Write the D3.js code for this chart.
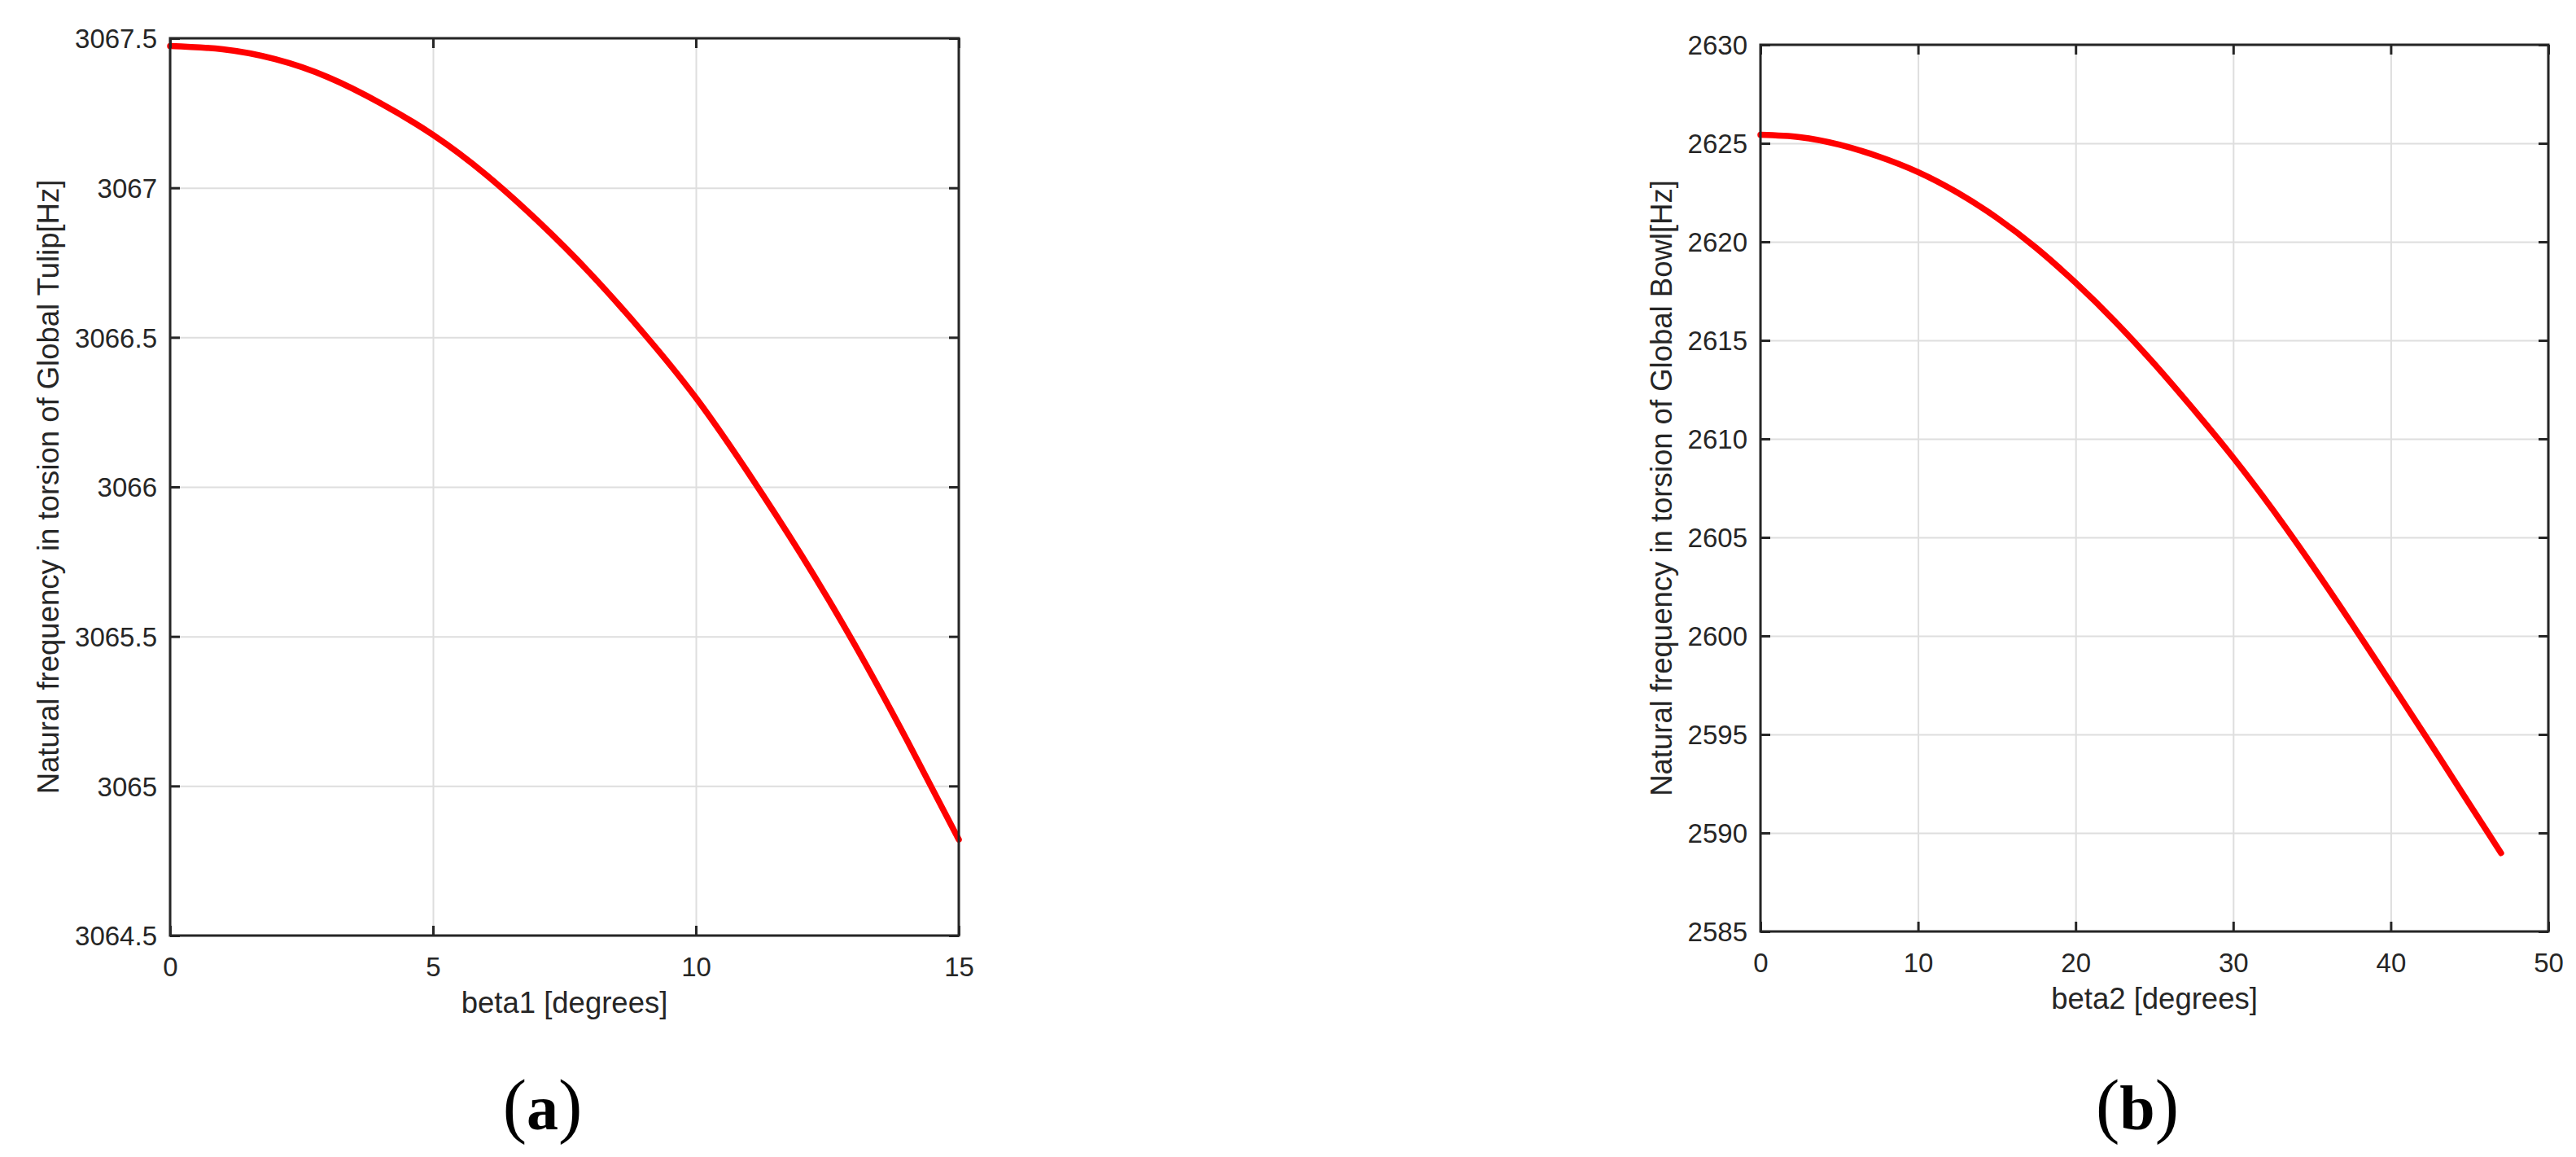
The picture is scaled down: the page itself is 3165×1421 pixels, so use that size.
<!DOCTYPE html>
<html>
<head>
<meta charset="utf-8">
<script src="https://cdn.jsdelivr.net/npm/d3@7/dist/d3.min.js"></script>
<style>
  html, body { margin: 0; padding: 0; background: #ffffff; }
  svg { display: block; }
</style>
</head>
<body>
<svg id="chart" width="3165" height="1421"></svg>
<script>
// ---------- Data ----------
// Panel (a): beta1 [degrees] vs natural frequency of Global Tulip [Hz]
const tulipBeta = [0, 1, 2, 3, 4, 5, 6, 7, 8, 9, 10, 11, 12, 13, 14, 15];
const tulipFreq = [3067.474, 3067.463, 3067.430, 3067.370, 3067.283, 3067.177,
                   3067.045, 3066.888, 3066.712, 3066.515, 3066.298, 3066.046,
                   3065.774, 3065.479, 3065.158, 3064.821];
const tulipXTicks = [0, 5, 10, 15];
const tulipYTicks = [3064.5, 3065, 3065.5, 3066, 3066.5, 3067, 3067.5];

// Panel (b): beta2 [degrees] vs natural frequency of Global Bowl [Hz]
const bowlBeta = [0, 2.5, 5, 7.5, 10, 12.5, 15, 17.5, 20, 22.5, 25, 27.5,
                  30, 32.5, 35, 37.5, 40, 42.5, 45, 47];
const bowlFreq = [2625.43, 2625.31, 2624.93, 2624.33, 2623.54, 2622.50, 2621.22,
                  2619.69, 2617.92, 2615.96, 2613.80, 2611.48, 2609.05, 2606.42,
                  2603.60, 2600.65, 2597.62, 2594.56, 2591.46, 2588.98];
const bowlXTicks = [0, 10, 20, 30, 40, 50];
const bowlYTicks = [2585, 2590, 2595, 2600, 2605, 2610, 2615, 2620, 2625, 2630];

const panels = [
  {
    xs: tulipBeta, ys: tulipFreq, xTicks: tulipXTicks, yTicks: tulipYTicks,
    xDomain: [0, 15], yDomain: [3064.5, 3067.5],
    xLabel: "beta1 [degrees]",
    yLabel: "Natural frequency in torsion of Global Tulip[Hz]",
    letter: "a",
    box: { left: 209, right: 1178, top: 47, bottom: 1149 },
    yLabelGap: 137.5, letterX: 666.5
  },
  {
    xs: bowlBeta, ys: bowlFreq, xTicks: bowlXTicks, yTicks: bowlYTicks,
    xDomain: [0, 50], yDomain: [2585, 2630],
    xLabel: "beta2 [degrees]",
    yLabel: "Natural frequency in torsion of Global Bowl[Hz]",
    letter: "b",
    box: { left: 2163, right: 3131, top: 55, bottom: 1144 },
    yLabelGap: 109, letterX: 2626
  }
];

// ---------- Styling ----------
const AXIS_COLOR = "#262626";
const GRID_COLOR = "#dedede";
const TICK_FONT = 33;
const LABEL_FONT = 36.5;
const FONT = "'Liberation Sans', Arial, Helvetica, sans-serif";
const TICK_LEN = 12;

const svg = d3.select("#chart");
svg.append("rect").attr("width", 3165).attr("height", 1421).attr("fill", "#ffffff");

panels.forEach(p => {
  const b = p.box;
  const w = b.right - b.left, h = b.bottom - b.top;
  const x = d3.scaleLinear().domain(p.xDomain).range([b.left, b.right]);
  const y = d3.scaleLinear().domain(p.yDomain).range([b.bottom, b.top]);
  const g = svg.append("g");

  // Grid lines
  const gx = g.append("g").attr("transform", `translate(0,${b.bottom})`)
    .call(d3.axisBottom(x).tickValues(p.xTicks).tickSize(-h).tickFormat(""));
  const gy = g.append("g").attr("transform", `translate(${b.left},0)`)
    .call(d3.axisLeft(y).tickValues(p.yTicks).tickSize(-w).tickFormat(""));
  [gx, gy].forEach(sel => {
    sel.select(".domain").remove();
    sel.selectAll("line").attr("stroke", GRID_COLOR).attr("stroke-width", 2);
  });

  // Data curve
  const pts = p.xs.map((v, i) => [v, p.ys[i]]);
  g.append("path")
    .datum(pts)
    .attr("fill", "none")
    .attr("stroke", "#ff0000")
    .attr("stroke-width", 7.5)
    .attr("stroke-linecap", "round")
    .attr("stroke-linejoin", "round")
    .attr("d", d3.line().x(d => x(d[0])).y(d => y(d[1])).curve(d3.curveNatural));

  // Axes with inward ticks on all four sides
  const axB = g.append("g").attr("transform", `translate(0,${b.bottom})`)
    .call(d3.axisBottom(x).tickValues(p.xTicks).tickSizeInner(-TICK_LEN).tickSizeOuter(0)
      .tickFormat(d => String(d)));
  const axT = g.append("g").attr("transform", `translate(0,${b.top})`)
    .call(d3.axisTop(x).tickValues(p.xTicks).tickSizeInner(-TICK_LEN).tickSizeOuter(0).tickFormat(""));
  const axL = g.append("g").attr("transform", `translate(${b.left},0)`)
    .call(d3.axisLeft(y).tickValues(p.yTicks).tickSizeInner(-TICK_LEN).tickSizeOuter(0)
      .tickFormat(d => String(d)));
  const axR = g.append("g").attr("transform", `translate(${b.right},0)`)
    .call(d3.axisRight(y).tickValues(p.yTicks).tickSizeInner(-TICK_LEN).tickSizeOuter(0).tickFormat(""));

  [axB, axT, axL, axR].forEach(sel => {
    sel.select(".domain").remove();
    sel.selectAll("line").attr("stroke", AXIS_COLOR).attr("stroke-width", 3);
    sel.selectAll("text")
      .attr("fill", AXIS_COLOR)
      .attr("font-family", FONT)
      .attr("font-size", TICK_FONT);
  });
  axB.selectAll("text").attr("y", 50).attr("dy", 0).attr("text-anchor", "middle");
  axL.selectAll("text").attr("x", -16).attr("dy", 0).attr("y", 11.8).attr("text-anchor", "end");

  // Frame
  g.append("rect")
    .attr("x", b.left).attr("y", b.top).attr("width", w).attr("height", h)
    .attr("fill", "none").attr("stroke", AXIS_COLOR).attr("stroke-width", 3);

  // Axis labels
  g.append("text")
    .attr("x", (b.left + b.right) / 2)
    .attr("y", b.bottom + 95)
    .attr("text-anchor", "middle")
    .attr("font-family", FONT)
    .attr("font-size", LABEL_FONT)
    .attr("fill", AXIS_COLOR)
    .text(p.xLabel);

  const lx = b.left - p.yLabelGap, ly = (b.top + b.bottom) / 2;
  g.append("text")
    .attr("transform", `translate(${lx},${ly}) rotate(-90)`)
    .attr("text-anchor", "middle")
    .attr("font-family", FONT)
    .attr("font-size", LABEL_FONT)
    .attr("fill", AXIS_COLOR)
    .text(p.yLabel);

  // Panel letter
  const t = svg.append("text")
    .attr("x", p.letterX)
    .attr("y", 1387)
    .attr("text-anchor", "middle")
    .attr("font-family", "'Liberation Serif', 'Times New Roman', serif")
    .attr("fill", "#000000");
  t.append("tspan").attr("font-size", 88).text("(");
  t.append("tspan").attr("font-size", 78).attr("font-weight", "bold").text(p.letter);
  t.append("tspan").attr("font-size", 88).text(")");
});
</script>
</body>
</html>
